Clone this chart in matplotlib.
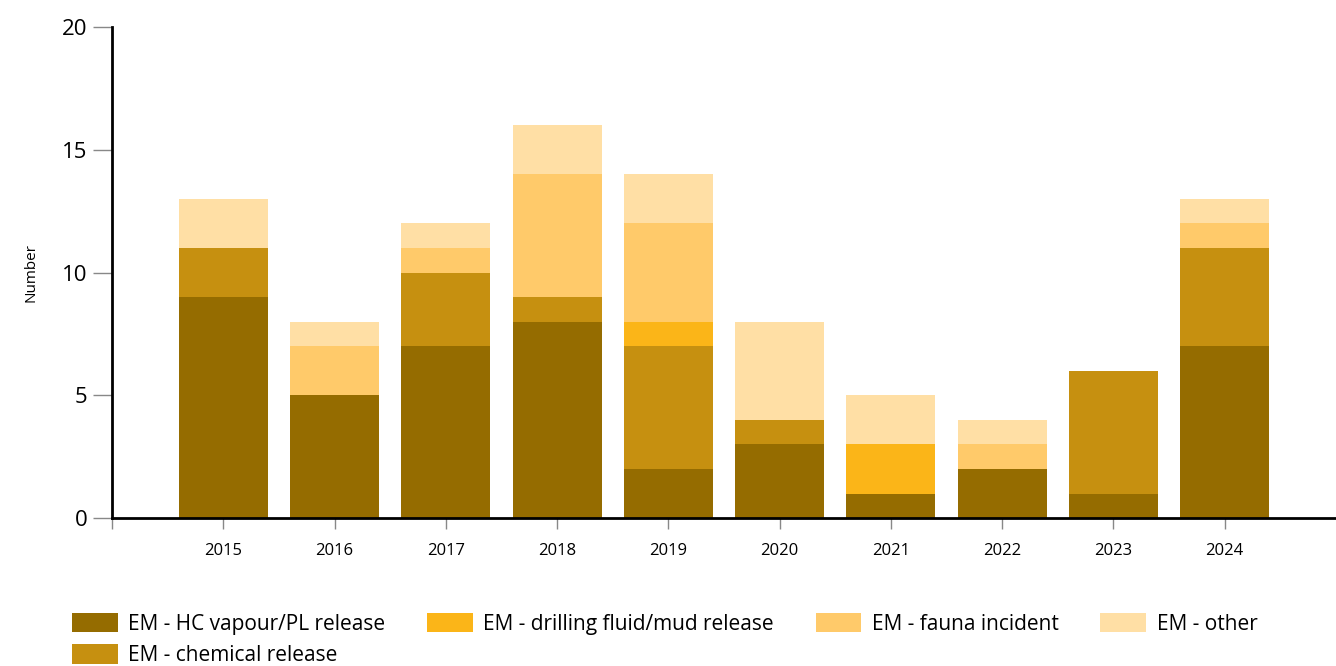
#!/usr/bin/env python3
#
# Stacked bars: environmental incidents per year, by type
#
import matplotlib
matplotlib.use('Agg')
import matplotlib.pyplot as plt
import numpy as np

plt.rcParams['font.family'] = ['Open Sans', 'DejaVu Sans']

years = ['2015', '2016', '2017', '2018', '2019',
         '2020', '2021', '2022', '2023', '2024']
hc_vapour = [9, 5, 7, 8, 2, 3, 1, 2, 1, 7]
chemical = [2, 0, 3, 1, 5, 1, 0, 0, 5, 4]
drilling = [0, 0, 0, 0, 1, 0, 2, 0, 0, 0]
fauna = [0, 2, 1, 5, 4, 0, 0, 1, 0, 1]
other = [2, 1, 1, 2, 2, 4, 2, 1, 0, 1]

series = [
    ('EM - HC vapour/PL release', hc_vapour, '#956c00'),
    ('EM - chemical release', chemical, '#c69010'),
    ('EM - drilling fluid/mud release', drilling, '#fbb518'),
    ('EM - fauna incident', fauna, '#ffca6a'),
    ('EM - other', other, '#ffdfa5'),
]

fig = plt.figure(figsize=(13.36, 6.66), dpi=100)
ax = fig.add_axes([0.0838, 0.222, 0.9162, 0.7375])

x = np.arange(len(years))
bottom = np.zeros(len(years))
for label, vals, col in series:
    vals = np.array(vals, dtype=float)
    ax.bar(x, vals, 0.8, bottom=bottom, color=col, label=label,
           linewidth=0, zorder=2)
    bottom += vals

ax.set_xlim(-1, 10)
ax.set_ylim(0, 20)
ax.set_yticks([0, 5, 10, 15, 20])
ax.tick_params(axis='y', labelsize=16, length=14, color='#888888', width=1)
ax.set_xticks(np.arange(-1, 10))
ax.set_xticklabels([''] + years)
ax.tick_params(axis='x', labelsize=12, length=8, color='#888888', width=1,
               pad=10)
for s in ('top', 'right'):
    ax.spines[s].set_visible(False)
for s in ('left', 'bottom'):
    ax.spines[s].set_linewidth(2)
    ax.spines[s].set_color('black')
ax.set_ylabel('Number', fontsize=11, labelpad=17)

fig.legend(loc='lower left', bbox_to_anchor=(72 / 1336, 0.0), ncol=4,
           frameon=False, fontsize=15, handlelength=2.2,
           handleheight=1.05, handletextpad=0.5, columnspacing=2.0,
           labelspacing=0.45, borderpad=0.0, borderaxespad=0.0)

fig.savefig('out.png', dpi=100)
